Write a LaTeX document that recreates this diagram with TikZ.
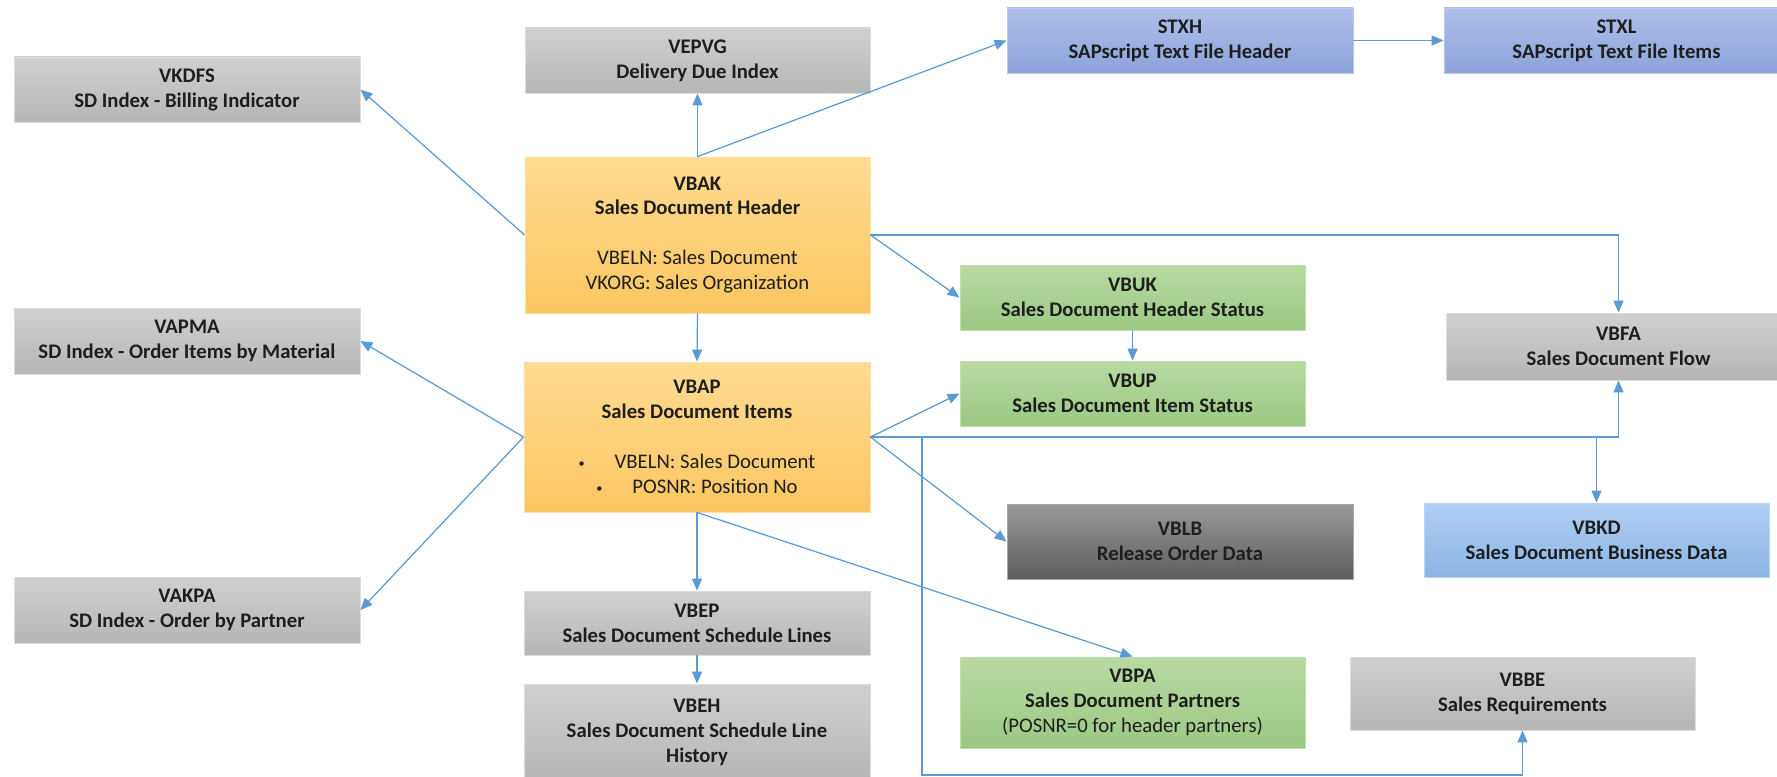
\documentclass[tikz,border=0pt]{standalone}
\usepackage{fontspec}
\setmainfont{Carlito}
\usetikzlibrary{arrows.meta}

\definecolor{linkblue}{HTML}{5B9BD5}
\definecolor{txt}{HTML}{1E1E1E}
\definecolor{grayT}{HTML}{D0D0D0}
\definecolor{grayB}{HTML}{B6B6B6}
\definecolor{grayE}{HTML}{DCDCDC}
\definecolor{orangeT}{HTML}{FFDB92}
\definecolor{orangeB}{HTML}{FBC660}
\definecolor{orangeE}{HTML}{FFE0A0}
\definecolor{greenT}{HTML}{B9DAA2}
\definecolor{greenB}{HTML}{9CC882}
\definecolor{greenE}{HTML}{C2DEAE}
\definecolor{blueT}{HTML}{B0BFEA}
\definecolor{blueB}{HTML}{8CA3DA}
\definecolor{blueE}{HTML}{BCC8EC}
\definecolor{ltblueT}{HTML}{B0CFF3}
\definecolor{ltblueB}{HTML}{8BB5E6}
\definecolor{ltblueE}{HTML}{BBD5F3}
\definecolor{darkT}{HTML}{9A9A9A}
\definecolor{darkB}{HTML}{5C5C5C}
\definecolor{darkE}{HTML}{A8A8A8}

\tikzset{
  tbl/.style={inner sep=0pt, align=center, text=txt, line width=0.5pt,
    font=\bfseries\fontsize{11.8pt}{14.2pt}\selectfont},
  sz/.style 2 args={minimum width=#1*0.02cm, minimum height=#2*0.02cm},
  graybox/.style={tbl, top color=grayT, bottom color=grayB, draw=grayE},
  orangebox/.style={tbl, top color=orangeT, bottom color=orangeB, draw=orangeE},
  greenbox/.style={tbl, top color=greenT, bottom color=greenB, draw=greenE},
  bluebox/.style={tbl, top color=blueT, bottom color=blueB, draw=blueE},
  ltbluebox/.style={tbl, top color=ltblueT, bottom color=ltblueB, draw=ltblueE},
  darkbox/.style={tbl, top color=darkT, bottom color=darkB, draw=darkE},
  link/.style={draw=linkblue, line width=0.7pt,
    -{Triangle[length=0.24cm, width=0.2cm]}}
}

% a key field of a table, set as a small bullet followed by the text
\newcommand\bulletline[1]{\mdseries\makebox[0.72cm][l]{\raisebox{0.1ex}{\fontsize{7pt}{7pt}\selectfont •}}#1}

\begin{document}
\begin{tikzpicture}[x=0.02cm, y=-0.02cm]
  \useasboundingbox (0,0) rectangle (1777,777);
  \fill[white] (0,0) rectangle (1777,777);
  \clip (0,0) rectangle (1777,777);

  % index tables on the left
  \node[graybox, sz={346}{65}] (vkdfs) at (187,89.5) {VKDFS\\SD Index - Billing Indicator};
  \node[graybox, sz={346}{66}] (vapma) at (187,341) {VAPMA\\SD Index - Order Items by Material};
  \node[graybox, sz={346}{66}] (vakpa) at (187,610) {VAKPA\\SD Index - Order by Partner};

  % header and item tables
  \node[graybox, sz={345}{65}] (vepvg) at (697.5,60.5) {VEPVG\\Delivery Due Index};
  \node[orangebox, sz={345}{156}] (vbak) at (697.5,235)
    {VBAK\\Sales Document Header\\[14.2pt]\mdseries VBELN: Sales Document\\\mdseries VKORG: Sales Organization};
  \node[orangebox, sz={346}{150}] (vbap) at (697,437)
    {VBAP\\Sales Document Items\\[14.2pt]\bulletline{VBELN: Sales Document}\\\bulletline{POSNR: Position No}};
  \node[graybox, sz={346}{64}] (vbep) at (697,623) {VBEP\\Sales Document Schedule Lines};
  \node[graybox, sz={346}{96}] (vbeh) at (697,732) {VBEH\\Sales Document Schedule Line\\History};

  % texts
  \node[bluebox, sz={346}{65}] (stxh) at (1180,40.5) {STXH\\SAPscript Text File Header};
  \node[bluebox, sz={345}{65}] (stxl) at (1616.5,40.5) {STXL\\SAPscript Text File Items};

  % status, partners and flow
  \node[greenbox, sz={345}{65}] (vbuk) at (1132.5,297.5) {VBUK\\Sales Document Header Status};
  \node[greenbox, sz={345}{65}] (vbup) at (1132.5,393.5) {VBUP\\Sales Document Item Status};
  \node[graybox, sz={345}{67}] (vbfa) at (1618.5,346.5) {VBFA\\Sales Document Flow};
  \node[darkbox, sz={346}{75}] (vblb) at (1180,541.5) {VBLB\\Release Order Data};
  \node[ltbluebox, sz={345}{74}] (vbkd) at (1596.5,540) {VBKD\\Sales Document Business Data};
  \node[greenbox, sz={345}{91}] (vbpa) at (1132.5,702.5)
    {VBPA\\Sales Document Partners\\\mdseries (POSNR=0 for header partners)};
  \node[graybox, sz={345}{73}] (vbbe) at (1522.5,693.5) {VBBE\\Sales Requirements};

  % connectors from the header
  \draw[link] (vbak.west) -- (vkdfs.east);
  \draw[link] (vbak.north) -- (vepvg.south);
  \draw[link] (vbak.north) -- (stxh.west);
  \draw[link] (stxh.east) -- (stxl.west);
  \draw[link] (vbak.east) -- (vbuk.west);
  \draw[link] (vbak.east) -| (vbfa.north);
  \draw[link] (vbak.south) -- (vbap.north);
  \draw[link] (vbuk.south) -- (vbup.north);

  % connectors from the items
  \draw[link] (vbap.west) -- (vapma.east);
  \draw[link] (vbap.west) -- (vakpa.east);
  \draw[link] (vbap.east) -- (vbup.west);
  \draw[link] (vbap.east) -- (vblb.west);
  \draw[link] (vbap.east) -| (vbfa.south);
  \draw[link] (vbap.east -| vbkd.north) -- (vbkd.north);
  \coordinate (loop) at (922,775);
  \draw[link] (vbap.east -| loop) -- (loop) -| (vbbe.south);
  \draw[link] (vbap.south) -- (vbep.north);
  \draw[link] (vbep.south) -- (vbeh.north);
  \draw[link] (vbap.south) -- (vbpa.north);
\end{tikzpicture}
\end{document}
